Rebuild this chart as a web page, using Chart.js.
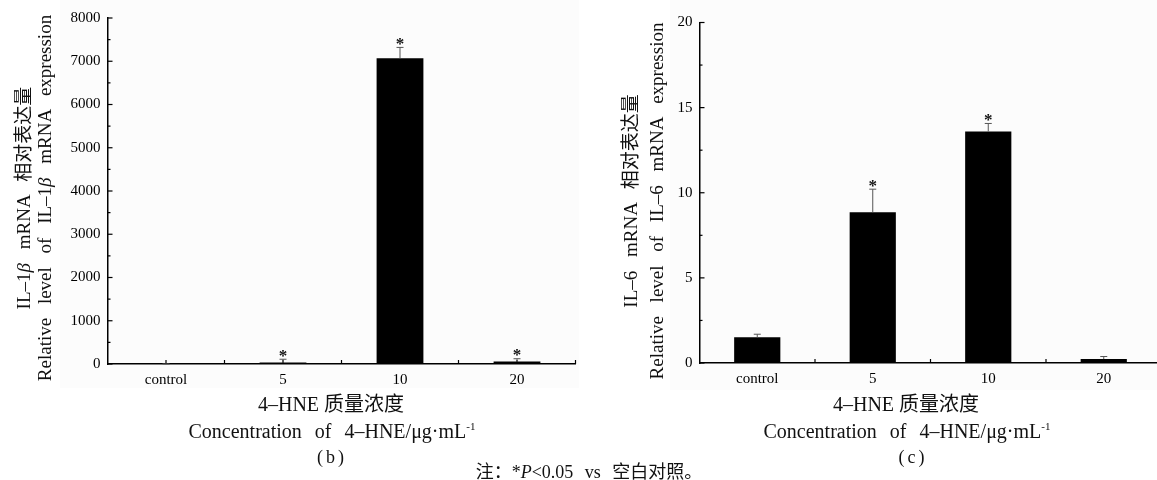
<!DOCTYPE html>
<html>
<head>
<meta charset="utf-8">
<title>4-HNE IL-1β / IL-6 mRNA</title>
<script src="https://cdn.jsdelivr.net/npm/chart.js@4"></script>
<style>
  body {
    margin: 0;
    width: 1157px;
    height: 480px;
    overflow: hidden;
    position: relative;
    background: #fff;
    font-family: "Liberation Serif", "Noto Sans CJK SC", serif;
    color: #111;
  }
  .panel { position: absolute; background: #fcfcfc; }
  canvas { position: absolute; top: 0; }
  .ytitle {
    position: absolute;
    width: 420px;
    text-align: center;
    white-space: nowrap;
    font-size: 19px;
    word-spacing: 9px;
    transform: rotate(-90deg);
  }
  .xtitle {
    position: absolute;
    width: 420px;
    text-align: center;
    white-space: nowrap;
  }
  .cn { font-size: 20px; line-height: 24px; }
  .en { font-size: 20px; line-height: 24px; word-spacing: 8px; }
  .en sup { font-size: 11px; }
  .tag { font-size: 18px; line-height: 24px; letter-spacing: 3px; }
  .note { font-size: 18px; line-height: 22px; word-spacing: 7px; }
</style>
</head>
<body>
<div class="panel" style="left:60px;top:0;width:519px;height:388px"></div>
<div class="panel" style="left:670px;top:0;width:487px;height:390px"></div>

<canvas id="chartB" width="580" height="400" style="left:0"></canvas>
<canvas id="chartC" width="585" height="400" style="left:580px"></canvas>

<div class="ytitle" style="left:-176.5px;top:177px;line-height:21px">
  IL–1<i>β</i> mRNA 相对表达量<br>Relative level of IL–1<i>β</i> mRNA expression
</div>
<div class="ytitle" style="left:434px;top:175px;line-height:26px">
  IL–6 mRNA 相对表达量<br>Relative level of IL–6 mRNA expression
</div>

<div class="xtitle cn" style="left:121px;top:392px">4–HNE 质量浓度</div>
<div class="xtitle en" style="left:122px;top:414px">Concentration of 4–HNE/μg·mL<sup>-1</sup></div>
<div class="xtitle tag" style="left:122px;top:445px">(b)</div>

<div class="xtitle cn" style="left:696px;top:392px">4–HNE 质量浓度</div>
<div class="xtitle en" style="left:697px;top:414px">Concentration of 4–HNE/μg·mL<sup>-1</sup></div>
<div class="xtitle tag" style="left:703px;top:445px">(c)</div>

<div class="xtitle note" style="left:379px;top:461px">注：*<i>P</i>&lt;0.05 vs 空白对照。</div>

<script>
// Groups on the x axis (4-HNE concentration)
const categories = ['control', '5', '10', '20'];

// IL-1β relative expression, upper error and significance marks
const il1bValues = [1, 35, 7070, 55];
const il1bErrors = [0.3, 75, 250, 67];
const il1bStars = [false, true, true, true];
const il1bAxis = { max: 8000, step: 500, labelStep: 1000 };

// IL-6 relative expression, upper error and significance marks
const il6Values = [1.51, 8.86, 13.6, 0.23];
const il6Errors = [0.18, 1.35, 0.47, 0.15];
const il6Stars = [false, true, true, false];
const il6Axis = { max: 20, step: 2.5, labelStep: 5 };

const tickFont = { family: '"Liberation Serif", serif', size: 15 };

// Inward tick marks on both axes, drawn under the bars
const innerTicks = {
  id: 'innerTicks',
  beforeDatasetsDraw(chart, args, opts) {
    const { ctx, chartArea } = chart;
    const xs = chart.scales.x;
    const ys = chart.scales.y;
    ctx.save();
    ctx.strokeStyle = '#000';
    ctx.lineWidth = 1.2;
    ys.ticks.forEach((t, i) => {
      const py = ys.getPixelForTick(i);
      const len = t.value % opts.labelStep === 0 ? 5 : 3;
      ctx.beginPath();
      ctx.moveTo(chartArea.left, py);
      ctx.lineTo(chartArea.left + len, py);
      ctx.stroke();
    });
    const half = (xs.getPixelForValue(1) - xs.getPixelForValue(0)) / 2;
    categories.forEach((c, i) => {
      const cx = xs.getPixelForValue(i);
      [cx, cx + half].forEach(px => {
        ctx.beginPath();
        ctx.moveTo(px, chartArea.bottom);
        ctx.lineTo(px, chartArea.bottom - 4);
        ctx.stroke();
      });
    });
    ctx.restore();
  }
};

// Upper error bars with a significance asterisk above the cap
const errorBars = {
  id: 'errorBars',
  afterDatasetsDraw(chart, args, opts) {
    const { ctx } = chart;
    const ys = chart.scales.y;
    const meta = chart.getDatasetMeta(0);
    ctx.save();
    meta.data.forEach((bar, i) => {
      const top = ys.getPixelForValue(opts.values[i] + opts.errors[i]);
      ctx.strokeStyle = '#555';
      ctx.lineWidth = 1;
      ctx.beginPath();
      ctx.moveTo(bar.x, bar.y);
      ctx.lineTo(bar.x, top);
      ctx.moveTo(bar.x - 3.5, top);
      ctx.lineTo(bar.x + 3.5, top);
      ctx.stroke();
      if (opts.stars[i]) {
        ctx.fillStyle = '#111';
        ctx.font = 'bold 17px "Liberation Serif", serif';
        ctx.textAlign = 'center';
        ctx.textBaseline = 'alphabetic';
        ctx.fillText('*', bar.x, top + 1.5);
      }
    });
    ctx.restore();
  }
};

function makeChart(id, values, errors, stars, axis, box) {
  return new Chart(document.getElementById(id), {
    type: 'bar',
    data: {
      labels: categories,
      datasets: [{
        data: values,
        backgroundColor: '#000',
        borderWidth: 0,
        categoryPercentage: 1,
        barPercentage: 0.4
      }]
    },
    options: {
      responsive: false,
      animation: false,
      layout: { padding: { top: box.top, right: box.right, left: 0, bottom: 0 } },
      plugins: {
        legend: { display: false },
        tooltip: { enabled: false },
        innerTicks: { labelStep: axis.labelStep },
        errorBars: { values: values, errors: errors, stars: stars }
      },
      scales: {
        x: {
          grid: { display: false, drawTicks: false },
          border: { display: true, color: '#000', width: 1.5 },
          ticks: { color: '#000', font: tickFont, padding: 7, maxRotation: 0 },
          afterFit: s => { s.height = box.xHeight; }
        },
        y: {
          min: 0,
          max: axis.max,
          grid: { display: false, drawTicks: false },
          border: { display: true, color: '#000', width: 1.5 },
          ticks: {
            stepSize: axis.step,
            color: '#000',
            font: tickFont,
            padding: 7,
            callback: v => (v % axis.labelStep === 0 ? String(v) : '')
          },
          afterFit: s => { s.width = box.yWidth; }
        }
      }
    },
    plugins: [innerTicks, errorBars]
  });
}

makeChart('chartB', il1bValues, il1bErrors, il1bStars, il1bAxis,
  { top: 18, right: 4.5, yWidth: 107.5, xHeight: 36 });
makeChart('chartC', il6Values, il6Errors, il6Stars, il6Axis,
  { top: 22.5, right: 3.5, yWidth: 119.5, xHeight: 37 });
</script>
</body>
</html>
